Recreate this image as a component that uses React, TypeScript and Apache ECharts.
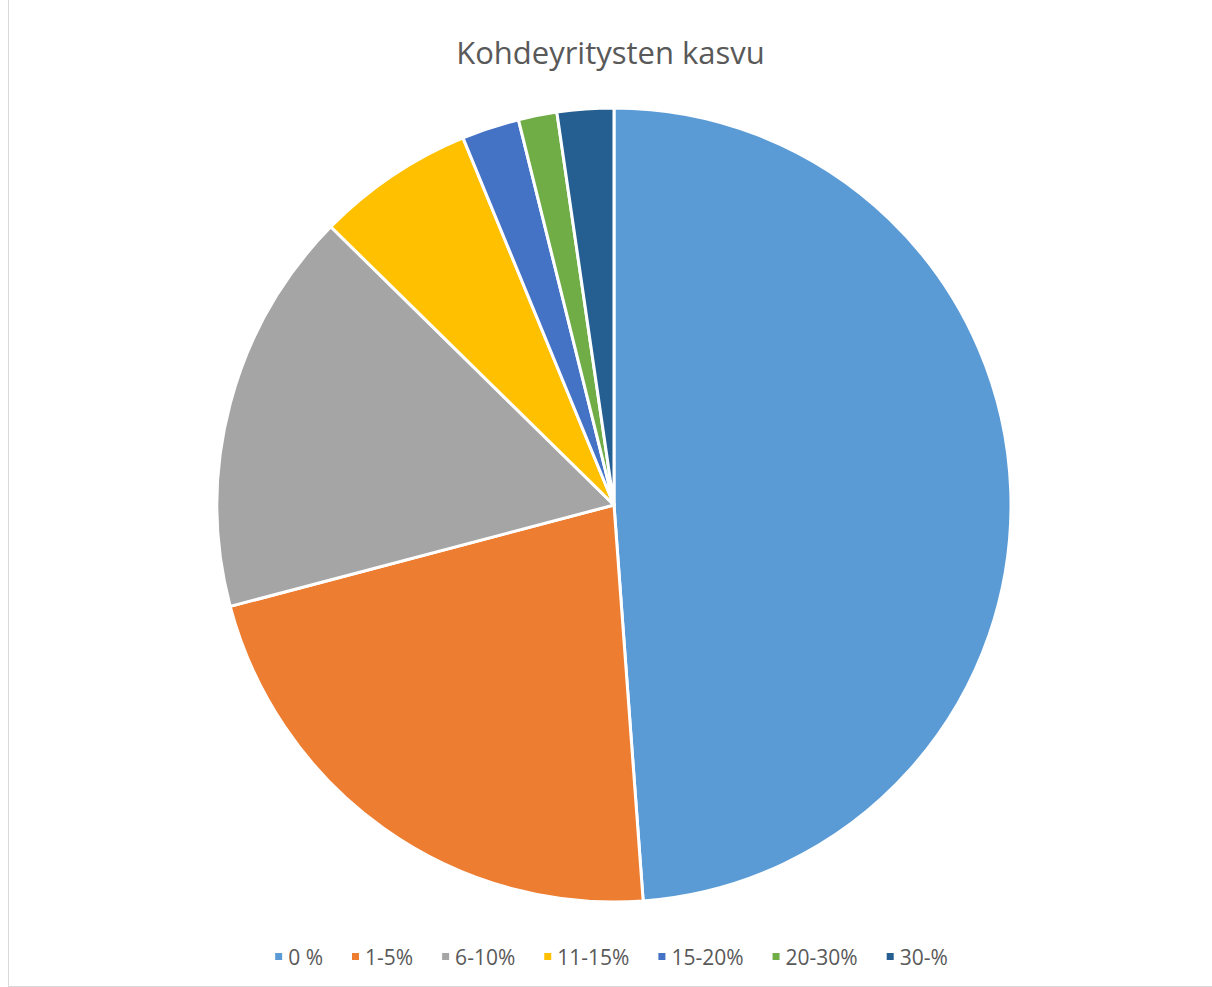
import React, { useEffect, useRef } from "react";
import * as echarts from "echarts";

const categories = ["0 %", "1-5%", "6-10%", "11-15%", "15-20%", "20-30%", "30-%"];
const values = [48.83, 22.06, 16.47, 6.43, 2.34, 1.57, 2.3];
const colors = ["#5B9BD5", "#ED7D31", "#A5A5A5", "#FFC000", "#4472C4", "#70AD47", "#255E91"];
const titleText = "Kohdeyritysten kasvu";

export default function App() {
  const ref = useRef<HTMLDivElement>(null);
  useEffect(() => {
    if (!ref.current) return;
    const chart = echarts.init(ref.current, undefined, { renderer: "svg" });
    chart.setOption({
      animation: false,
      backgroundColor: "#ffffff",
      color: colors,
      title: {
        text: titleText,
        left: "center",
        top: 31,
        textStyle: { fontFamily: "Open Sans", fontSize: 31, fontWeight: "normal", color: "#595959" },
      },
      legend: {
        data: categories,
        bottom: 14,
        left: "center",
        icon: "rect",
        itemWidth: 9,
        itemHeight: 9,
        itemGap: 27,
        textStyle: { fontFamily: "Open Sans", fontSize: 21, color: "#595959" },
      },
      series: [
        {
          type: "pie",
          center: [605, 505],
          radius: 397,
          startAngle: 90,
          clockwise: true,
          label: { show: false },
          labelLine: { show: false },
          emphasis: { disabled: true },
          itemStyle: { borderColor: "#ffffff", borderWidth: 3 },
          data: categories.map((c, i) => ({ name: c, value: values[i] })),
        },
      ],
    });
    return () => chart.dispose();
  }, []);
  return (
    <div
      ref={ref}
      style={{
        position: "absolute",
        left: 8,
        top: 0,
        width: 1204,
        height: 987,
        boxSizing: "border-box",
        borderLeft: "1px solid #d9d9d9",
        borderBottom: "1px solid #d9d9d9",
      }}
    />
  );
}
